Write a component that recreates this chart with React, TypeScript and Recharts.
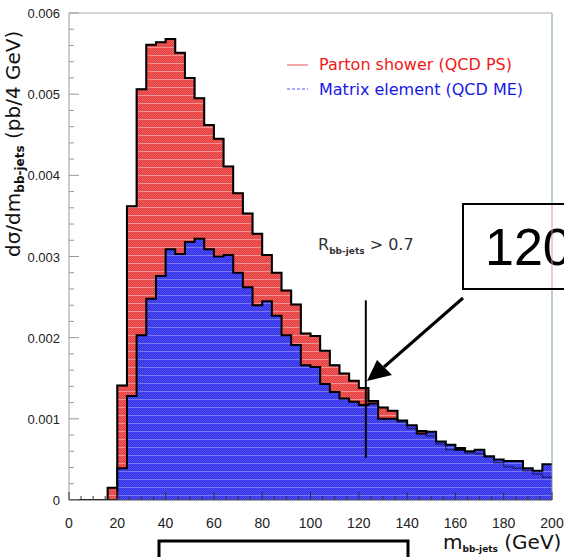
import React from "react";
import {
  ComposedChart,
  Area,
  Line,
  XAxis,
  YAxis,
  ReferenceLine,
} from "recharts";

// lower edges of the 4 GeV mass bins
const massBins = [
  0, 4, 8, 12, 16, 20, 24, 28, 32, 36, 40, 44, 48, 52, 56, 60, 64, 68, 72, 76,
  80, 84, 88, 92, 96, 100, 104, 108, 112, 116, 120, 124, 128, 132, 136, 140,
  144, 148, 152, 156, 160, 164, 168, 172, 176, 180, 184, 188, 192, 196,
];

// Parton shower (QCD PS), pb / 4 GeV
const partonShower = [
  0, 0, 0, 0, 0.00015, 0.00141, 0.00362, 0.00506, 0.00561, 0.00564,
  0.00568, 0.00551, 0.0052, 0.00495, 0.00462, 0.00445, 0.00411, 0.00378, 0.00353, 0.00328,
  0.00302, 0.0028, 0.00258, 0.00241, 0.00205, 0.00202, 0.00184, 0.00166, 0.00156, 0.00147,
  0.00138, 0.00122, 0.00114, 0.0011, 0.00096, 0.00088, 0.00085, 0.00079, 0.00069, 0.00062,
  0.00064, 0.00058, 0.00057, 0.00053, 0.00046, 0.00041, 0.00039, 0.00036, 0.00032, 0.00028,
];

// Matrix element (QCD ME), pb / 4 GeV
const matrixElement = [
  0, 0, 0, 0, 0, 0.00039, 0.00128, 0.00203, 0.00248, 0.00276,
  0.00309, 0.00303, 0.00318, 0.00322, 0.00309, 0.003, 0.00302, 0.0028, 0.00262, 0.0024,
  0.00245, 0.00227, 0.00203, 0.00191, 0.00166, 0.00164, 0.00143, 0.00133, 0.00125, 0.00121,
  0.00117, 0.00119, 0.001, 0.001, 0.00098, 0.00092, 0.00082, 0.00084, 0.00072, 0.00068,
  0.00062, 0.0006, 0.00062, 0.00054, 0.0005, 0.00048, 0.00048, 0.00039, 0.00036, 0.00044,
];

const xTickLabels = [0, 20, 40, 60, 80, 100, 120, 140, 160, 180, 200];
const yTickLabels = [0, 0.001, 0.002, 0.003, 0.004, 0.005, 0.006];

// minor ticks: 5 GeV on x, 0.0002 on y
const xTicks: number[] = [];
for (let i = 0; i <= 40; i++) xTicks.push(i * 5);
const yTicks: number[] = [];
for (let i = 0; i <= 30; i++) yTicks.push(+(i * 0.0002).toFixed(4));

const data = massBins.map((m, i) => ({
  m,
  ps: partonShower[i],
  me: matrixElement[i],
}));
// close the last bin at 200 GeV
data.push({
  m: 200,
  ps: partonShower[partonShower.length - 1],
  me: matrixElement[matrixElement.length - 1],
});

const SANS = "'Liberation Sans', Arial, sans-serif";
const WIDE = "'DejaVu Sans', sans-serif";

function XTick({ x, y, payload }: any) {
  const v = payload.value;
  const major = xTickLabels.includes(v);
  return (
    <g>
      <line x1={x} x2={x} y1={y} y2={y - (major ? 8 : 4)} stroke="#333" strokeWidth={1} />
      {major && (
        <text x={x} y={y + 28} textAnchor="middle" fontSize={14} fontFamily={SANS} fill="#222">
          {v}
        </text>
      )}
    </g>
  );
}

function YTick({ x, y, payload }: any) {
  const v = payload.value;
  const major = yTickLabels.some((t) => Math.abs(t - v) < 1e-9);
  return (
    <g>
      <line x1={x} x2={x + (major ? 10 : 5)} y1={y} y2={y} stroke="#999" strokeWidth={1} />
      {major && (
        <text x={x - 9} y={y + 5} textAnchor="end" fontSize={13} fontFamily={SANS} fill="#222">
          {v === 0 ? "0" : v.toFixed(3)}
        </text>
      )}
    </g>
  );
}

function Overlay() {
  return (
    <svg
      width={564}
      height={557}
      style={{ position: "absolute", left: 0, top: 0, pointerEvents: "none" }}
    >
      {/* y title */}
      <text transform="translate(20,257) rotate(-90)" fontFamily={WIDE} fontSize={20} fill="#111">
        dσ/dm
        <tspan fontSize={12} fontWeight="bold" dy={4}>bb-jets</tspan>
        <tspan dy={-4}> (pb/4 GeV)</tspan>
      </text>
      {/* x title */}
      <text x={443} y={549} fontFamily={WIDE} fontSize={20} fill="#111">
        m
        <tspan fontSize={9} fontWeight="bold" dy={3}>bb-jets</tspan>
        <tspan dy={-3}> (GeV)</tspan>
      </text>

      {/* legend */}
      <line x1={287} x2={308} y1={65} y2={65} stroke="#f05050" strokeWidth={1} />
      <text x={319} y={70} fontFamily={WIDE} fontSize={16} fill="#f01818">
        Parton shower (QCD PS)
      </text>
      <line x1={287} x2={308} y1={89} y2={89} stroke="#5050ff" strokeWidth={1} strokeDasharray="3 2" />
      <text x={319} y={95} fontFamily={WIDE} fontSize={16} fill="#1818e8">
        Matrix element (QCD ME)
      </text>

      {/* cut annotation */}
      <text x={318} y={250} fontFamily={WIDE} fontSize={16} fill="#333">
        R
        <tspan fontSize={9} fontWeight="bold" dy={4}>bb-jets</tspan>
        <tspan dy={-4}>{"  > 0.7"}</tspan>
      </text>

      {/* arrow */}
      <line x1={463} y1={298} x2={384} y2={367} stroke="#000" strokeWidth={3} />
      <polygon points="367,381 377,360 392,375" fill="#000" />

      {/* 120 box, cut by the page edge as in the original slide */}
      <rect x={463} y={204} width={130} height={85} fill="#fff" stroke="#000" strokeWidth={2} />
      <text x={485} y={265} fontFamily={SANS} fontSize={52} fill="#000">
        120
      </text>
      <line x1={552} x2={552} y1={205} y2={288} stroke="#d99" strokeWidth={1} />

      {/* bottom box */}
      <rect x={159} y={541} width={249} height={40} fill="#fff" stroke="#000" strokeWidth={3} />
    </svg>
  );
}

export default function App() {
  return (
    <div
      style={{
        position: "fixed",
        left: 0,
        top: 0,
        width: 564,
        height: 557,
        overflow: "hidden",
        background: "#fff",
      }}
    >
      <ComposedChart
        width={564}
        height={557}
        data={data}
        margin={{ top: 13, right: 12, left: 0, bottom: 0 }}
      >
        <defs>
          <pattern id="psChk" patternUnits="userSpaceOnUse" width={2} height={2}>
            <rect width={2} height={2} fill="#f43a3a" />
            <rect x={0} y={0} width={1} height={1} fill="#de6262" />
            <rect x={1} y={1} width={1} height={1} fill="#de6262" />
          </pattern>
          <pattern id="psFill" patternUnits="userSpaceOnUse" width={8} height={8}>
            <rect width={8} height={8} fill="url(#psChk)" />
            <rect x={0} y={7} width={8} height={1} fill="#f09090" />
          </pattern>
          <pattern id="meChk" patternUnits="userSpaceOnUse" width={2} height={2}>
            <rect width={2} height={2} fill="#2a2af6" />
            <rect x={0} y={0} width={1} height={1} fill="#5656e2" />
            <rect x={1} y={1} width={1} height={1} fill="#5656e2" />
          </pattern>
          <pattern id="meFill" patternUnits="userSpaceOnUse" width={8} height={8}>
            <rect width={8} height={8} fill="url(#meChk)" />
            <rect x={0} y={7} width={8} height={1} fill="#7878f0" />
          </pattern>
        </defs>

        <ReferenceLine y={0.006} stroke="#aaa" strokeWidth={1} />
        <ReferenceLine x={200} stroke="#7f9f9f" strokeWidth={1} />

        <Area
          type="stepAfter"
          dataKey="ps"
          stroke="#000"
          strokeWidth={2}
          fill="url(#psFill)"
          fillOpacity={1}
          dot={false}
          activeDot={false}
          isAnimationActive={false}
        />
        <Area
          type="stepAfter"
          dataKey="me"
          stroke="#000"
          strokeWidth={2}
          fill="url(#meFill)"
          fillOpacity={1}
          dot={false}
          activeDot={false}
          isAnimationActive={false}
        />
        {/* PS outline seen through the ME fill */}
        <Line
          type="stepAfter"
          dataKey="ps"
          stroke="#000"
          strokeOpacity={0.45}
          strokeWidth={1.5}
          dot={false}
          activeDot={false}
          isAnimationActive={false}
        />

        <ReferenceLine
          segment={[
            { x: 122.9, y: 0.00246 },
            { x: 122.9, y: 0.00052 },
          ]}
          stroke="#000"
          strokeWidth={2}
        />

        <XAxis
          type="number"
          dataKey="m"
          domain={[0, 200]}
          ticks={xTicks}
          interval={0}
          tick={<XTick />}
          tickLine={false}
          tickSize={0}
          tickMargin={0}
          axisLine={{ stroke: "#555" }}
          height={57}
          allowDataOverflow
        />
        <YAxis
          type="number"
          domain={[0, 0.006]}
          ticks={yTicks}
          interval={0}
          tick={<YTick />}
          tickLine={false}
          tickSize={0}
          tickMargin={0}
          axisLine={{ stroke: "#999" }}
          width={69}
          allowDataOverflow
        />
      </ComposedChart>
      <Overlay />
    </div>
  );
}
